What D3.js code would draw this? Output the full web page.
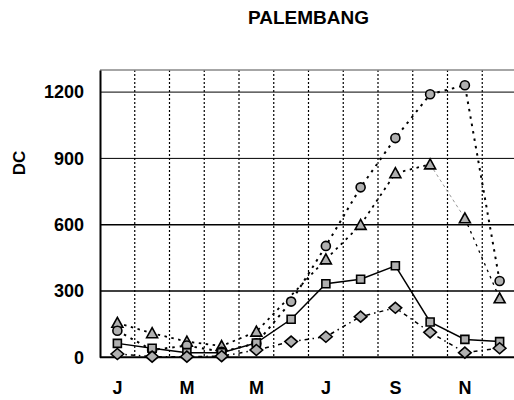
<!DOCTYPE html>
<html>
<head>
<meta charset="utf-8">
<script src="https://cdn.jsdelivr.net/npm/d3@7"></script>
<style>
  body { margin: 0; background: #fff; }
  text { font-family: "Liberation Sans", Arial, sans-serif; font-weight: bold; }
</style>
</head>
<body>
<div id="container"></div>
<script>
/* DATA */
const months = ["Jan","Feb","Mar","Apr","May","Jun","Jul","Aug","Sep","Oct","Nov","Dec"];
const circleVals   = [120, 33, 53, 25, 63, 252, 504, 769, 992, 1190, 1231, 345];
const triangleVals = [156, 109, 71, 51, 116, null, 443, 599, 833, 873, 629, 267];
const squareVals   = [63, 41, 21, 21, 65, 172, 333, 353, 414, 160, 81, 71];
const diamondVals  = [15, 3, 3, 5, 33, 71, 93, 184, 224, 113, 21, 41];
const yTicks = [0, 300, 600, 900, 1200];

/* CONSTANTS */
const width = 514, height = 400;
const margin = {top: 70, left: 100, right: -3, bottom: 42.7};
const fill = "#b0b0b0";

const svg = d3.select("#container").append("svg")
  .attr("width", width).attr("height", height);

// SCALES
const x = d3.scaleBand().domain(months).range([margin.left, width - margin.right]).padding(0);
const y = d3.scaleLinear().domain([0, 1300]).range([height - margin.bottom, margin.top]);
const cx = m => x(m) + x.bandwidth() / 2;

// title + axis label
svg.append("text").attr("x", 308.5).attr("y", 24).attr("text-anchor", "middle")
  .style("font-size", "19px").text("PALEMBANG");
svg.append("text").attr("transform", "translate(25,163) rotate(-90)")
  .attr("text-anchor", "middle").style("font-size", "17px").text("DC");

// GRID
svg.append("g").selectAll("line").data(months.slice(1)).join("line")
  .attr("x1", d => x(d)).attr("x2", d => x(d))
  .attr("y1", y(1300)).attr("y2", y(0))
  .attr("stroke", "#000").attr("stroke-width", 1.2).attr("stroke-dasharray", "2,2");

svg.append("g").selectAll("line").data(yTicks.slice(1)).join("line")
  .attr("x1", margin.left).attr("x2", width)
  .attr("y1", d => y(d)).attr("y2", d => y(d))
  .attr("stroke", "#000").attr("stroke-width", d => (d === 300 || d === 600) ? 1.6 : 1);

svg.append("line").attr("x1", margin.left).attr("x2", width)
  .attr("y1", y(1300)).attr("y2", y(1300)).attr("stroke", "#888").attr("stroke-width", 1.5);

// AXES
const yAxis = svg.append("g").attr("transform", `translate(${margin.left},0)`)
  .call(d3.axisLeft(y).tickValues(yTicks).tickFormat(d3.format("d")).tickSize(0).tickPadding(16));
yAxis.select(".domain").attr("stroke-width", 2);
yAxis.selectAll("text").style("font-size", "18px").style("font-family", "Liberation Sans, Arial, sans-serif");

const xAxis = svg.append("g").attr("transform", `translate(0,${y(0)})`)
  .call(d3.axisBottom(x).tickValues(months.filter((d, i) => i % 2 === 0))
    .tickFormat(d => d[0]).tickSize(0).tickPadding(24));
xAxis.select(".domain").attr("stroke-width", 2).attr("d", `M${margin.left},0H${width}`);
xAxis.selectAll("text").style("font-size", "18px").style("font-family", "Liberation Sans, Arial, sans-serif");

// LINES
const lineGen = d3.line().x(d => cx(d.m)).y(d => y(d.v));
const pts = vals => vals.map((v, i) => ({m: months[i], v})).filter(d => d.v != null);

function drawLine(data, stroke, sw, dash) {
  svg.append("path").datum(data).attr("d", lineGen)
    .attr("fill", "none").attr("stroke", stroke).attr("stroke-width", sw)
    .attr("stroke-dasharray", dash);
}
const tri = pts(triangleVals);
drawLine(tri.slice(0, 9), "#000", 1.8, "2.5,4.5");
drawLine(tri.slice(8, 10), "#999", 1, "3,3");
drawLine(tri.slice(9), "#000", 1.3, "2.5,4.5");
drawLine(pts(circleVals), "#000", 2, "2.5,5");
drawLine(pts(squareVals), "#000", 1.5, null);
drawLine(pts(diamondVals), "#000", 1.5, "4,4,1.5,4");

// MARKERS
const shapes = {
  triangle: "M0,-5.5L5.5,4.5L-5.5,4.5Z",
  circle: d3.symbol(d3.symbolCircle, 64)(),
  square: "M-4,-4H4V4H-4Z",
  diamond: "M0,-5.5L6.3,0L0,5.5L-6.3,0Z"
};
function drawMarkers(vals, shape) {
  svg.append("g").selectAll("path").data(pts(vals)).join("path")
    .attr("transform", d => `translate(${cx(d.m)},${y(d.v)})`)
    .attr("d", shapes[shape])
    .attr("fill", fill).attr("stroke", "#000").attr("stroke-width", 1.6);
}
drawMarkers(triangleVals, "triangle");
drawMarkers(circleVals, "circle");
drawMarkers(squareVals, "square");
drawMarkers(diamondVals, "diamond");
</script>
</body>
</html>
